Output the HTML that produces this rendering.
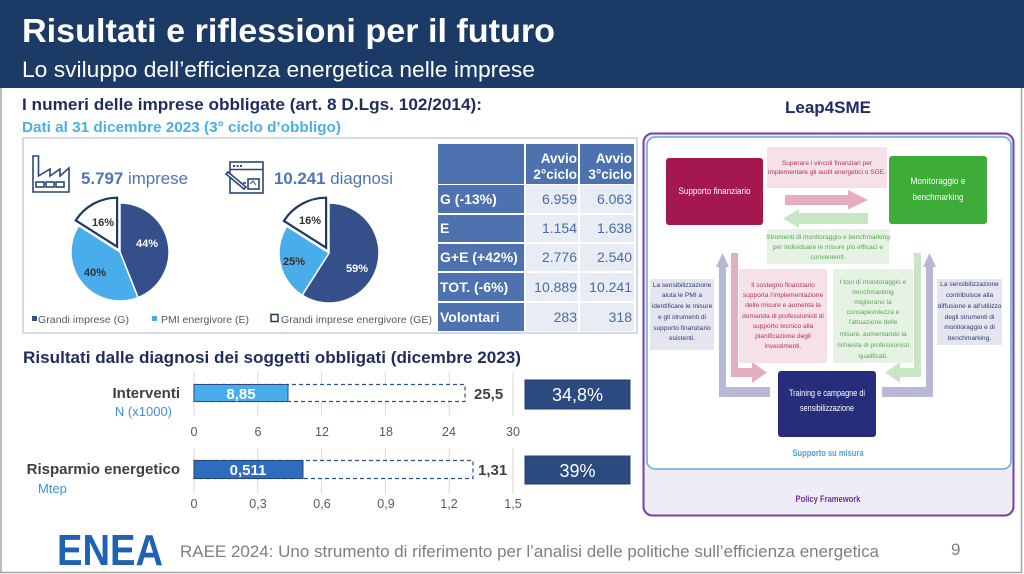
<!DOCTYPE html>
<html><head><meta charset="utf-8"><style>
html,body{margin:0;padding:0;background:#fff;}
svg{display:block;}
text{font-family:"Liberation Sans",Arial,sans-serif;}
.sm{font-size:6.6px;text-anchor:middle;}
</style></head><body>
<svg width="1024" height="574" viewBox="0 0 1024 574" xmlns="http://www.w3.org/2000/svg">
<rect width="1024" height="574" fill="#fff"/>
<!-- header -->
<rect x="0" y="0" width="1024" height="88" fill="#1c3a66"/>
<text x="22" y="42" font-size="33" font-weight="bold" fill="#fff" textLength="533" lengthAdjust="spacingAndGlyphs">Risultati e riflessioni per il futuro</text>
<text x="22" y="77" font-size="22" fill="#fff" textLength="513" lengthAdjust="spacingAndGlyphs">Lo sviluppo dell’efficienza energetica nelle imprese</text>
<!-- frame -->
<g stroke="#a6a6a6" stroke-width="1.5" fill="none">
<line x1="1" y1="88" x2="1" y2="573"/>
<line x1="1021.5" y1="88" x2="1021.5" y2="573"/>
<line x1="0" y1="572.5" x2="1022" y2="572.5"/>
</g>
<!-- headings -->
<text x="22" y="110" font-size="16.5" font-weight="bold" fill="#1f2d5e" textLength="460" lengthAdjust="spacingAndGlyphs">I numeri delle imprese obbligate (art. 8 D.Lgs. 102/2014):</text>
<text x="22" y="132" font-size="14.5" font-weight="bold" fill="#4aaee8" textLength="319" lengthAdjust="spacingAndGlyphs">Dati al 31 dicembre 2023 (3° ciclo d’obbligo)</text>
<!-- pie panel -->
<rect x="23" y="138" width="614" height="195" fill="none" stroke="#d5dbe6" stroke-width="2"/>
<!-- factory icon -->
<g fill="none" stroke="#2c4677" stroke-width="1.6" stroke-linejoin="miter">
<path d="M33 192 V156 H38.5 V176 L50 169 V176 L60 169 V176 L69 168 V192 Z"/>
<rect x="36" y="182" width="8" height="5"/><rect x="46" y="182" width="8" height="5"/><rect x="56" y="182" width="8" height="5"/>
</g>
<text x="81" y="184" font-size="17" fill="#5075b5" textLength="107" lengthAdjust="spacingAndGlyphs"><tspan font-weight="bold">5.797</tspan> imprese</text>
<!-- doc icon -->
<g fill="none" stroke="#2c4677" stroke-width="1.6">
<rect x="230" y="162" width="33" height="31"/>
<line x1="230" y1="169.5" x2="263" y2="169.5"/>
<rect x="248" y="179" width="11" height="10"/>
<line x1="243" y1="183" x2="246" y2="183"/><line x1="243" y1="187" x2="246" y2="187"/>
<path d="M226 174 L244 189 L246 187 L228 172 Z" fill="#fff"/>
<path d="M250 184 L253 181 L256 185" stroke-width="1"/>
</g>
<g fill="#2c4677"><rect x="233" y="165" width="2" height="2"/><rect x="236.5" y="165" width="2" height="2"/><rect x="240" y="165" width="2" height="2"/></g>
<text x="274" y="184" font-size="17" fill="#5075b5" textLength="119" lengthAdjust="spacingAndGlyphs"><tspan font-weight="bold">10.241</tspan> diagnosi</text>
<!-- left pie -->
<g stroke="#fff" stroke-width="1.5">
<path d="M120,252 L120,203 A49,49 0 0 1 138.04,297.56 Z" fill="#344f8a"/>
<path d="M120,252 L138.04,297.56 A49,49 0 0 1 78.63,225.75 Z" fill="#4aadeb"/>
</g>
<path d="M117.1,246.7 L75.73,220.45 A49,49 0 0 1 117.1,197.7 Z" fill="#fff" stroke="#1f3864" stroke-width="2.2"/>
<!-- right pie -->
<g stroke="#fff" stroke-width="1.5">
<path d="M329,253 L329,203 A50,50 0 1 1 302.21,295.22 Z" fill="#344f8a"/>
<path d="M329,253 L302.21,295.22 A50,50 0 0 1 286.78,226.21 Z" fill="#4aadeb"/>
</g>
<path d="M326.1,247.7 L283.88,220.91 A50,50 0 0 1 326.1,197.7 Z" fill="#fff" stroke="#1f3864" stroke-width="2.2"/>
<g font-size="11" font-weight="bold" text-anchor="middle">
<text x="147" y="247" fill="#fff">44%</text>
<text x="95" y="276" fill="#303030">40%</text>
<text x="103" y="226" fill="#303030">16%</text>
<text x="310" y="224" fill="#303030">16%</text>
<text x="294" y="265" fill="#303030">25%</text>
<text x="357" y="272" fill="#fff">59%</text>
</g>
<!-- legend -->
<rect x="32" y="316" width="5" height="5" fill="#344f8a"/>
<rect x="152" y="316" width="5" height="5" fill="#4aadeb"/>
<rect x="271" y="314.5" width="7" height="7" fill="#fff" stroke="#1f3864" stroke-width="1.5"/>
<g font-size="10.5" fill="#595959">
<text x="38" y="323" textLength="91" lengthAdjust="spacingAndGlyphs">Grandi imprese (G)</text>
<text x="161" y="323" textLength="88" lengthAdjust="spacingAndGlyphs">PMI energivore (E)</text>
<text x="281" y="323" textLength="151" lengthAdjust="spacingAndGlyphs">Grandi imprese energivore (GE)</text>
</g>
<!-- table -->
<g fill="#4e72b0">
<rect x="438" y="144" width="86" height="40"/><rect x="526" y="144" width="52" height="40"/><rect x="580" y="144" width="54" height="40"/>
<rect x="438" y="185" width="86" height="28"/><rect x="438" y="215" width="86" height="27"/><rect x="438" y="244" width="86" height="27"/><rect x="438" y="273" width="86" height="28"/><rect x="438" y="303" width="86" height="28"/>
</g>
<g fill="#e8ecf5">
<rect x="526" y="185" width="52" height="28"/><rect x="580" y="185" width="54" height="28"/>
<rect x="526" y="215" width="52" height="27"/><rect x="580" y="215" width="54" height="27"/>
<rect x="526" y="244" width="52" height="27"/><rect x="580" y="244" width="54" height="27"/>
<rect x="526" y="273" width="52" height="28"/><rect x="580" y="273" width="54" height="28"/>
<rect x="526" y="303" width="52" height="28"/><rect x="580" y="303" width="54" height="28"/>
</g>
<g font-size="13.5" font-weight="bold" fill="#fff" text-anchor="end">
<text x="577" y="163">Avvio</text><text x="577" y="179">2°ciclo</text>
<text x="632" y="163">Avvio</text><text x="632" y="179">3°ciclo</text>
</g>
<g font-size="14" font-weight="bold" fill="#fff">
<text x="440" y="204">G (-13%)</text>
<text x="440" y="233">E</text>
<text x="440" y="262">G+E (+42%)</text>
<text x="440" y="292">TOT. (-6%)</text>
<text x="440" y="322">Volontari</text>
</g>
<g font-size="14" fill="#4a6aa5" text-anchor="end">
<text x="577" y="204">6.959</text><text x="632" y="204">6.063</text>
<text x="577" y="233">1.154</text><text x="632" y="233">1.638</text>
<text x="577" y="262">2.776</text><text x="632" y="262">2.540</text>
<text x="577" y="292">10.889</text><text x="632" y="292">10.241</text>
<text x="577" y="322">283</text><text x="632" y="322">318</text>
</g>
<!-- results heading -->
<text x="23" y="363" font-size="16.5" font-weight="bold" fill="#1f2d5e" textLength="498" lengthAdjust="spacingAndGlyphs">Risultati dalle diagnosi dei soggetti obbligati (dicembre 2023)</text>
<!-- gridlines -->
<g stroke="#d9d9d9" stroke-width="1">
<line x1="194" y1="372" x2="194" y2="416"/><line x1="257.8" y1="372" x2="257.8" y2="416"/><line x1="321.6" y1="372" x2="321.6" y2="416"/><line x1="385.4" y1="372" x2="385.4" y2="416"/><line x1="449.2" y1="372" x2="449.2" y2="416"/><line x1="513" y1="372" x2="513" y2="416"/>
<line x1="194" y1="448" x2="194" y2="494"/><line x1="257.8" y1="448" x2="257.8" y2="494"/><line x1="321.6" y1="448" x2="321.6" y2="494"/><line x1="385.4" y1="448" x2="385.4" y2="494"/><line x1="449.2" y1="448" x2="449.2" y2="494"/><line x1="513" y1="448" x2="513" y2="494"/>
</g>
<!-- bar 1 -->
<rect x="194" y="384.5" width="271" height="17" fill="#fff" stroke="#2f4f8a" stroke-width="1.2" stroke-dasharray="4 3"/>
<rect x="194" y="384.5" width="94" height="17" fill="#4aadeb" stroke="#2b4a80" stroke-width="1"/>
<text x="241" y="399" font-size="15" font-weight="bold" fill="#fff" text-anchor="middle">8,85</text>
<text x="474" y="399" font-size="15" font-weight="bold" fill="#404040">25,5</text>
<text x="180" y="398" font-size="15" font-weight="bold" fill="#404040" text-anchor="end">Interventi</text>
<text x="172" y="416" font-size="13" fill="#3f8fd8" text-anchor="end">N (x1000)</text>
<g font-size="12.5" fill="#595959" text-anchor="middle">
<text x="194" y="436">0</text><text x="258" y="436">6</text><text x="322" y="436">12</text><text x="386" y="436">18</text><text x="449" y="436">24</text><text x="513" y="436">30</text>
</g>
<!-- bar 2 -->
<rect x="194" y="460.5" width="279" height="18" fill="#fff" stroke="#2f4f8a" stroke-width="1.2" stroke-dasharray="4 3"/>
<rect x="194" y="460.5" width="109" height="18" fill="#2e6cbf" stroke="#23447a" stroke-width="1"/>
<text x="248" y="475" font-size="15" font-weight="bold" fill="#fff" text-anchor="middle">0,511</text>
<text x="478" y="475" font-size="15" font-weight="bold" fill="#404040">1,31</text>
<text x="180" y="474" font-size="15" font-weight="bold" fill="#404040" text-anchor="end">Risparmio energetico</text>
<text x="38" y="493" font-size="13" fill="#3f8fd8">Mtep</text>
<g font-size="12.5" fill="#595959" text-anchor="middle">
<text x="194" y="508">0</text><text x="258" y="508">0,3</text><text x="322" y="508">0,6</text><text x="386" y="508">0,9</text><text x="449" y="508">1,2</text><text x="513" y="508">1,5</text>
</g>
<!-- result boxes -->
<rect x="525" y="380" width="105" height="29" fill="#2b4a7f" stroke="#203d6c" stroke-width="1"/>
<text x="577.5" y="401" font-size="18" fill="#fff" text-anchor="middle">34,8%</text>
<rect x="525" y="456" width="105" height="28" fill="#2b4a7f" stroke="#203d6c" stroke-width="1"/>
<text x="577.5" y="477" font-size="18" fill="#fff" text-anchor="middle">39%</text>

<!-- Leap4SME diagram -->
<text x="828" y="113" font-size="17" font-weight="bold" fill="#1f2a68" text-anchor="middle">Leap4SME</text>
<rect x="643.5" y="133.5" width="370" height="382" rx="9" fill="#eeedf5" stroke="#7b3fa3" stroke-width="2"/>
<rect x="647" y="137" width="364" height="332" rx="8" fill="#fff" stroke="#62a8d6" stroke-width="1.5"/>
<!-- top boxes -->
<rect x="666" y="158" width="97" height="67" rx="3" fill="#a5174f"/>
<text x="714.5" y="194" font-size="9.5" fill="#fff" text-anchor="middle" textLength="72" lengthAdjust="spacingAndGlyphs">Supporto finanziario</text>
<rect x="889" y="156" width="98" height="68" rx="3" fill="#3dac38"/>
<text x="938" y="184" font-size="9.5" fill="#fff" text-anchor="middle" textLength="55" lengthAdjust="spacingAndGlyphs">Monitoraggio e</text>
<text x="938" y="200" font-size="9.5" fill="#fff" text-anchor="middle" textLength="51" lengthAdjust="spacingAndGlyphs">benchmarking</text>
<rect x="767" y="147" width="120" height="41" fill="#f7e1e8"/>
<g class="sm" fill="#b0325f">
<text class="sm" x="827" y="165">Superare i vincoli finanziari  per</text>
<text class="sm" x="827" y="174">implementare gli audit energetici o SGE.</text>
</g>
<polygon points="785,195 848,195 848,190 868,200 848,209.5 848,205 785,205" fill="#e6adc1"/>
<polygon points="868,213 799,213 799,209 783,218.5 799,228 799,224 868,224" fill="#c8e6c6"/>
<rect x="767" y="229" width="122" height="35" fill="#e6f3e4"/>
<g fill="#55a84f">
<text class="sm" x="828" y="239">Strumenti di monitoraggio  e benchmarking</text>
<text class="sm" x="828" y="249">per individuare  le misure più efficaci e</text>
<text class="sm" x="828" y="259">convenienti.</text>
</g>
<!-- L arrows -->
<polygon points="719,397 719,267 716,267 722.5,253 729,267 726,267 726,387 770,387 770,397" fill="#b8b8d6"/>
<polygon points="731,253 738,253 738,368 752,368 752,362 767,372.5 752,383 752,377 731,377" fill="#e6adc1"/>
<polygon points="921,253 914,253 914,368 900,368 900,362 885,372.5 900,383 900,377 921,377" fill="#c8e6c6"/>
<polygon points="933,397 933,267 936,267 929.5,253 923,267 926,267 926,387 882,387 882,397" fill="#b8b8d6"/>
<!-- middle text boxes -->
<rect x="650" y="279" width="64" height="71" fill="#e4e5ef"/>
<g fill="#2e3a78">
<text class="sm" x="682" y="287">La sensibilizzazione</text>
<text class="sm" x="682" y="297">aiuta le PMI a</text>
<text class="sm" x="682" y="308">identificare le misure</text>
<text class="sm" x="682" y="319">e gli strumenti di</text>
<text class="sm" x="682" y="330">supporto finanziario</text>
<text class="sm" x="682" y="340">esistenti.</text>
</g>
<rect x="739" y="269" width="88" height="94" fill="#f7e1e8"/>
<g fill="#b0325f">
<text class="sm" x="783" y="287">Il sostegno finanziario</text>
<text class="sm" x="783" y="297">supporta l’implementazione</text>
<text class="sm" x="783" y="307">delle misure e aumenta la</text>
<text class="sm" x="783" y="318">domanda di professionisti di</text>
<text class="sm" x="783" y="328">supporto tecnico alla</text>
<text class="sm" x="783" y="338">pianificazione  degli</text>
<text class="sm" x="783" y="348">investimenti.</text>
</g>
<rect x="833" y="269" width="80" height="94" fill="#e6f3e4"/>
<g fill="#55a84f">
<text class="sm" x="873" y="284">I tool di monitoraggio e</text>
<text class="sm" x="873" y="294">benchmarking</text>
<text class="sm" x="873" y="304">migliorano  la</text>
<text class="sm" x="873" y="314">consapevolezza e</text>
<text class="sm" x="873" y="324">l’attuazione  delle</text>
<text class="sm" x="873" y="336">misure, aumentando la</text>
<text class="sm" x="873" y="347">richiesta di professionisti</text>
<text class="sm" x="873" y="358">qualificati.</text>
</g>
<rect x="937" y="279" width="65" height="66" fill="#e4e5ef"/>
<g fill="#2e3a78">
<text class="sm" x="969.5" y="286">La sensibilizzazione</text>
<text class="sm" x="969.5" y="297">contribuisce alla</text>
<text class="sm" x="969.5" y="308">diffusione e all’utilizzo</text>
<text class="sm" x="969.5" y="319">degli strumenti di</text>
<text class="sm" x="969.5" y="329">monitoraggio  e di</text>
<text class="sm" x="969.5" y="340">benchmarking.</text>
</g>
<!-- training box -->
<rect x="778" y="371" width="98" height="66" rx="3" fill="#262e7b"/>
<text x="827" y="396" font-size="9.5" fill="#fff" text-anchor="middle" textLength="76" lengthAdjust="spacingAndGlyphs">Training e campagne di</text>
<text x="827" y="411" font-size="9.5" fill="#fff" text-anchor="middle" textLength="54" lengthAdjust="spacingAndGlyphs">sensibilizzazione</text>
<text x="828" y="456" font-size="9.5" font-weight="bold" fill="#4f9fd2" text-anchor="middle" textLength="71" lengthAdjust="spacingAndGlyphs">Supporto su misura</text>
<text x="828" y="502" font-size="9" font-weight="bold" fill="#7030a0" text-anchor="middle" textLength="65" lengthAdjust="spacingAndGlyphs">Policy Framework</text>

<!-- footer -->
<text x="57" y="565" font-size="44" font-weight="bold" fill="#1e61b5" textLength="106" lengthAdjust="spacingAndGlyphs">ENEA</text>
<text x="180" y="557" font-size="17" fill="#7f7f7f" textLength="699" lengthAdjust="spacingAndGlyphs">RAEE 2024: Uno strumento di riferimento per l’analisi delle politiche sull’efficienza energetica</text>
<text x="951" y="555" font-size="17" fill="#7f7f7f">9</text>
</svg>
</body></html>
